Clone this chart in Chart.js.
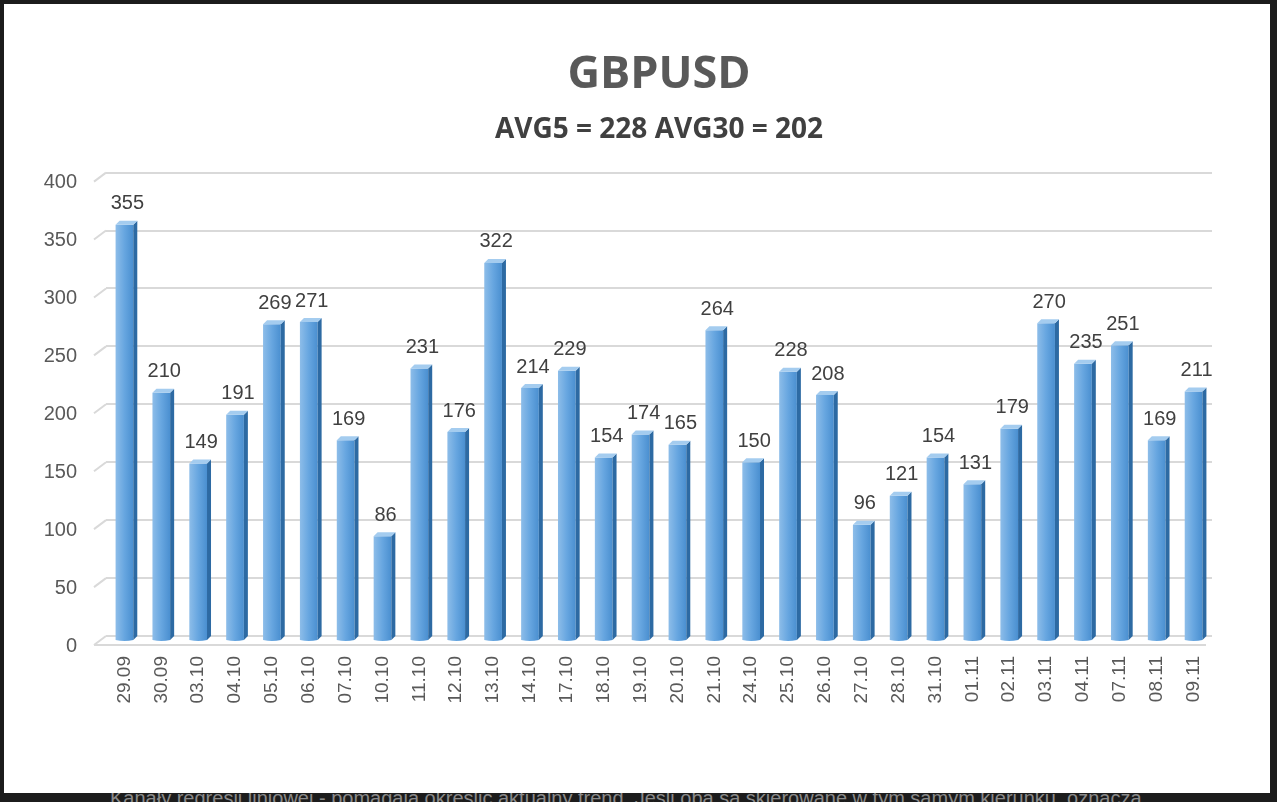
<!DOCTYPE html>
<html lang="en">
<head>
    <meta charset="UTF-8">
    <title>GBPUSD</title>
    <script src="https://cdn.jsdelivr.net/npm/chart.js@4.4.0/dist/chart.umd.min.js"></script>
    <style>
        * { margin: 0; padding: 0; box-sizing: border-box; }
        body {
            width: 1277px;
            height: 802px;
            background: #1c1c1c;
            overflow: hidden;
            position: relative;
            font-family: 'Liberation Sans', Arial, sans-serif;
        }
        #note {
            position: absolute;
            left: 110px;
            top: 787px;
            font-size: 20px;
            color: #8a8a8a;
            white-space: nowrap;
        }
        #panel {
            position: absolute;
            left: 4px;
            top: 4px;
            width: 1266px;
            height: 789px;
            background: #fff;
        }
    </style>
</head>
<body>
    <div id="note">Kanały regresji liniowej - pomagają określić aktualny trend. Jeśli oba są skierowane w tym samym kierunku, oznacza</div>
    <div id="panel"><canvas id="chart" width="1266" height="789"></canvas></div>

    <script>
        const dates = ['29.09', '30.09', '03.10', '04.10', '05.10', '06.10', '07.10', '10.10', '11.10', '12.10',
            '13.10', '14.10', '17.10', '18.10', '19.10', '20.10', '21.10', '24.10', '25.10', '26.10',
            '27.10', '28.10', '31.10', '01.11', '02.11', '03.11', '04.11', '07.11', '08.11', '09.11']
        const volatility = [355, 210, 149, 191, 269, 271, 169, 86, 231, 176,
            322, 214, 229, 154, 174, 165, 264, 150, 228, 208,
            96, 121, 154, 131, 179, 270, 235, 251, 169, 211]
        const yTicks = [0, 50, 100, 150, 200, 250, 300, 350, 400]

        const gridColor = '#d9d9d9'

        // fake 3D look: shaded front, dark side, light cap, slanted grid stubs
        const bars3d = {
            id: 'bars3d',
            beforeDatasetsDraw(chart) {
                const ctx = chart.ctx
                const y = chart.scales.y
                const area = chart.chartArea
                ctx.save()
                ctx.strokeStyle = gridColor
                ctx.lineWidth = 2
                yTicks.forEach(t => {
                    const py = y.getPixelForValue(t)
                    ctx.beginPath()
                    ctx.moveTo(area.left, py)
                    ctx.lineTo(area.left - 12, py + 9)
                    ctx.stroke()
                })
                const p0 = y.getPixelForValue(0)
                ctx.beginPath()
                ctx.moveTo(area.left - 12, p0 + 9)
                ctx.lineTo(area.right - 6, p0 + 9)
                ctx.stroke()
                ctx.restore()
            },
            afterDatasetsDraw(chart) {
                const ctx = chart.ctx
                const meta = chart.getDatasetMeta(0)
                ctx.save()
                meta.data.forEach((bar, i) => {
                    const { x, y, base, width } = bar.getProps(['x', 'y', 'base', 'width'], true)
                    const l = x - width / 2
                    const r = x + width / 2
                    const d = 4
                    const bottom = base + 5
                    const g = ctx.createLinearGradient(l, 0, r, 0)
                    g.addColorStop(0, '#8dbde9')
                    g.addColorStop(0.5, '#67a6e0')
                    g.addColorStop(1, '#4a8fd0')
                    ctx.fillStyle = g
                    ctx.beginPath()
                    ctx.moveTo(l, y)
                    ctx.lineTo(r, y)
                    ctx.lineTo(r, bottom)
                    ctx.quadraticCurveTo(x, bottom + 2, l, bottom)
                    ctx.closePath()
                    ctx.fill()
                    // side face
                    ctx.fillStyle = '#2d6aa3'
                    ctx.beginPath()
                    ctx.moveTo(r, y)
                    ctx.lineTo(r + d, y - d)
                    ctx.lineTo(r + d, bottom - d)
                    ctx.lineTo(r, bottom)
                    ctx.closePath()
                    ctx.fill()
                    // top cap
                    ctx.fillStyle = '#a4ccef'
                    ctx.beginPath()
                    ctx.moveTo(l, y)
                    ctx.lineTo(l + d, y - d)
                    ctx.lineTo(r + d, y - d)
                    ctx.lineTo(r, y)
                    ctx.closePath()
                    ctx.fill()
                    // value label
                    ctx.fillStyle = '#404040'
                    ctx.font = '20px "Liberation Sans", Arial, sans-serif'
                    ctx.textAlign = 'center'
                    ctx.textBaseline = 'middle'
                    ctx.fillText(volatility[i], x + 3, y - 21)
                })
                ctx.restore()
            }
        }

        function makeChart() {
            const ctx = document.getElementById('chart').getContext('2d')
            new Chart(ctx, {
                type: 'bar',
                data: {
                    labels: dates,
                    datasets: [{
                        label: 'GBPUSD',
                        data: volatility,
                        backgroundColor: 'rgba(0,0,0,0)',
                        borderWidth: 0,
                        categoryPercentage: 1,
                        barPercentage: 0.48
                    }]
                },
                options: {
                    responsive: false,
                    animation: false,
                    layout: { padding: { top: 20, right: 58, left: 0, bottom: 0 } },
                    plugins: {
                        legend: { display: false },
                        tooltip: { enabled: false },
                        title: {
                            display: true,
                            fullSize: false,
                            text: 'GBPUSD',
                            color: '#595959',
                            font: { family: 'Open Sans', size: 45, weight: 'bold' },
                            padding: { top: 24, bottom: 0 }
                        },
                        subtitle: {
                            display: true,
                            fullSize: false,
                            text: 'AVG5 = 228 AVG30 = 202',
                            color: '#404040',
                            font: { family: 'Open Sans', size: 28, weight: 'bold' },
                            padding: { top: 11, bottom: 26 }
                        }
                    },
                    scales: {
                        x: {
                            grid: { display: false },
                            border: { display: false },
                            ticks: {
                                color: '#595959',
                                font: { family: 'Liberation Sans', size: 19 },
                                minRotation: 90,
                                maxRotation: 90,
                                padding: 12,
                                autoSkip: false
                            },
                            afterFit(scale) { scale.height = 157 }
                        },
                        y: {
                            min: 0,
                            max: 400,
                            grid: { color: gridColor, lineWidth: 2, drawTicks: false },
                            border: { display: false },
                            ticks: {
                                stepSize: 50,
                                color: '#595959',
                                font: { family: 'Liberation Sans', size: 20 },
                                padding: 29,
                                labelOffset: 10
                            },
                            afterFit(scale) { scale.width = 102 }
                        }
                    }
                },
                plugins: [bars3d]
            })
        }
        makeChart()
    </script>
</body>
</html>
